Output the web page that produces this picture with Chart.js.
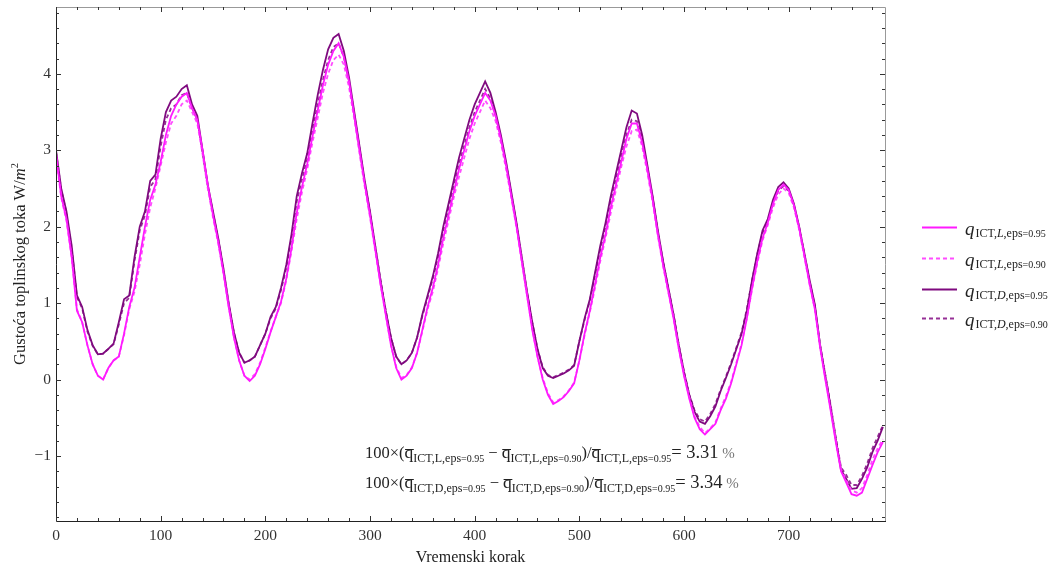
<!DOCTYPE html>
<html lang="hr">
<head>
<meta charset="UTF-8">
<title>Gustoća toplinskog toka</title>
<script src="https://cdn.jsdelivr.net/npm/chart.js"></script>
<style>
  html, body { margin: 0; padding: 0; background: #fff; }
  #wrap { width: 1057px; height: 569px; }
</style>
</head>
<body>
<div id="wrap"><canvas id="fluxChart" width="1057" height="569"></canvas></div>
<script>
// time steps (every 5th step)
var steps = [0,5,10,15,20,25,30,35,40,45,50,55,60,65,70,75,80,85,90,95,
  100,105,110,115,120,125,130,135,140,145,150,155,160,165,170,175,180,185,190,195,
  200,205,210,215,220,225,230,235,240,245,250,255,260,265,270,275,280,285,290,295,
  300,305,310,315,320,325,330,335,340,345,350,355,360,365,370,375,380,385,390,395,
  400,405,410,415,420,425,430,435,440,445,450,455,460,465,470,475,480,485,490,495,
  500,505,510,515,520,525,530,535,540,545,550,555,560,565,570,575,580,585,590,595,
  600,605,610,615,620,625,630,635,640,645,650,655,660,665,670,675,680,685,690,695,
  700,705,710,715,720,725,730,735,740,745,750,755,760,765,770,775,780,785,790];

var qL95 = [2.95,2.4,2.1,1.6,0.9,0.75,0.45,0.2,0.05,0.0,0.15,0.25,0.3,0.6,0.95,1.2,1.6,2.0,2.35,2.55,
  2.85,3.2,3.45,3.6,3.7,3.75,3.55,3.4,3.0,2.55,2.15,1.8,1.4,0.95,0.55,0.25,0.05,-0.02,0.05,0.2,
  0.4,0.62,0.82,1.02,1.32,1.72,2.18,2.52,2.82,3.18,3.52,3.85,4.12,4.3,4.4,4.22,3.9,3.45,3.0,2.55,
  2.15,1.7,1.25,0.85,0.45,0.15,0.0,0.05,0.15,0.35,0.65,0.95,1.2,1.5,1.85,2.15,2.45,2.75,3.0,3.25,
  3.45,3.6,3.75,3.65,3.45,3.15,2.8,2.4,2.0,1.55,1.1,0.65,0.3,0.0,-0.2,-0.32,-0.28,-0.23,-0.15,-0.05,
  0.25,0.6,0.9,1.25,1.6,1.9,2.25,2.55,2.85,3.15,3.35,3.35,3.1,2.75,2.35,1.9,1.5,1.15,0.8,0.4,
  0.05,-0.25,-0.5,-0.65,-0.72,-0.65,-0.58,-0.4,-0.25,-0.05,0.2,0.45,0.8,1.2,1.55,1.85,2.05,2.3,2.48,2.55,
  2.48,2.28,1.98,1.62,1.25,0.92,0.42,0.0,-0.4,-0.82,-1.2,-1.35,-1.5,-1.52,-1.48,-1.3,-1.12,-0.95,-0.82];

var qL90 = [2.92,2.38,2.08,1.6,0.92,0.75,0.45,0.2,0.05,0.0,0.15,0.25,0.3,0.58,0.92,1.15,1.5,1.9,2.25,2.5,
  2.8,3.1,3.35,3.45,3.6,3.65,3.5,3.35,2.95,2.5,2.12,1.78,1.38,0.95,0.55,0.25,0.05,0.0,0.07,0.22,
  0.42,0.63,0.82,1.0,1.3,1.68,2.1,2.45,2.75,3.1,3.42,3.75,4.0,4.18,4.25,4.12,3.82,3.4,2.95,2.52,
  2.12,1.68,1.25,0.85,0.45,0.17,0.02,0.06,0.16,0.35,0.63,0.92,1.15,1.45,1.78,2.08,2.38,2.65,2.9,3.15,
  3.35,3.5,3.65,3.55,3.38,3.1,2.75,2.38,1.98,1.54,1.1,0.66,0.3,0.02,-0.18,-0.3,-0.27,-0.22,-0.14,-0.04,
  0.25,0.58,0.88,1.2,1.55,1.85,2.18,2.48,2.78,3.05,3.25,3.27,3.05,2.7,2.32,1.88,1.48,1.14,0.8,0.4,
  0.06,-0.23,-0.48,-0.62,-0.7,-0.64,-0.56,-0.38,-0.22,-0.03,0.22,0.47,0.8,1.18,1.52,1.82,2.02,2.25,2.42,2.5,
  2.44,2.25,1.96,1.6,1.24,0.92,0.43,0.02,-0.38,-0.8,-1.18,-1.32,-1.45,-1.48,-1.42,-1.25,-1.05,-0.9,-0.78];

var qD95 = [3.0,2.5,2.2,1.75,1.1,0.95,0.65,0.45,0.33,0.34,0.4,0.47,0.75,1.05,1.1,1.6,2.0,2.2,2.6,2.68,
  3.15,3.5,3.65,3.7,3.8,3.85,3.6,3.45,3.0,2.55,2.2,1.85,1.45,1.0,0.62,0.35,0.22,0.25,0.3,0.45,
  0.6,0.82,0.95,1.2,1.5,1.9,2.4,2.7,2.96,3.35,3.72,4.05,4.32,4.47,4.52,4.3,3.95,3.5,3.05,2.6,
  2.2,1.75,1.3,0.9,0.55,0.3,0.2,0.25,0.35,0.55,0.85,1.1,1.35,1.65,2.0,2.3,2.6,2.9,3.15,3.4,
  3.6,3.75,3.9,3.75,3.5,3.2,2.85,2.45,2.05,1.6,1.15,0.75,0.4,0.15,0.05,0.02,0.05,0.08,0.12,0.18,
  0.5,0.8,1.05,1.4,1.75,2.05,2.4,2.7,3.0,3.3,3.52,3.48,3.2,2.8,2.4,1.95,1.55,1.2,0.85,0.45,
  0.1,-0.2,-0.42,-0.55,-0.58,-0.48,-0.35,-0.15,0.02,0.2,0.4,0.6,0.9,1.3,1.65,1.95,2.1,2.35,2.52,2.58,
  2.5,2.3,2.0,1.65,1.3,0.98,0.45,0.05,-0.35,-0.78,-1.18,-1.3,-1.43,-1.42,-1.3,-1.15,-0.95,-0.8,-0.62];

var qD90 = [2.98,2.48,2.18,1.72,1.08,0.93,0.63,0.44,0.33,0.34,0.4,0.46,0.72,1.0,1.07,1.55,1.95,2.15,2.52,2.62,
  3.05,3.4,3.55,3.6,3.72,3.75,3.55,3.4,2.98,2.53,2.18,1.83,1.43,0.98,0.61,0.35,0.22,0.25,0.3,0.45,
  0.6,0.8,0.93,1.17,1.46,1.85,2.33,2.62,2.88,3.25,3.6,3.92,4.18,4.35,4.4,4.22,3.9,3.46,3.02,2.58,
  2.18,1.74,1.3,0.9,0.55,0.3,0.2,0.25,0.35,0.55,0.83,1.07,1.32,1.6,1.95,2.24,2.53,2.82,3.06,3.3,
  3.5,3.65,3.8,3.68,3.45,3.16,2.82,2.43,2.03,1.59,1.14,0.75,0.4,0.16,0.06,0.03,0.06,0.09,0.13,0.19,
  0.5,0.78,1.03,1.37,1.7,2.0,2.34,2.63,2.92,3.2,3.4,3.38,3.15,2.77,2.38,1.93,1.54,1.19,0.85,0.45,
  0.1,-0.2,-0.4,-0.52,-0.55,-0.45,-0.32,-0.13,0.04,0.22,0.42,0.62,0.92,1.3,1.64,1.92,2.06,2.3,2.47,2.53,
  2.47,2.28,1.99,1.64,1.28,0.96,0.45,0.06,-0.33,-0.76,-1.15,-1.25,-1.38,-1.38,-1.26,-1.1,-0.9,-0.75,-0.6];

var xTicks = [0, 100, 200, 300, 400, 500, 600, 700];
var yTicks = [-1, 0, 1, 2, 3, 4];
var legendSub = [['L', '0.95'], ['L', '0.90'], ['D', '0.95'], ['D', '0.90']];
var ratioL = '3.31';
var ratioD = '3.34';

var SERIF = '"Liberation Serif", "Times New Roman", serif';
var colL = '#ff1aff', colL2 = '#ff4dff', colD = '#7f0a7f', colD2 = '#963096';

function pairs(vals) {
    return steps.map(function (s, i) { return { x: s, y: vals[i] }; });
}

// draw a run of text pieces (for sub/superscripts and italics)
function runs(ctx, x, y, parts) {
    parts.forEach(function (p) {
        ctx.font = (p.it ? 'italic ' : '') + p.sz + 'px ' + SERIF;
        ctx.fillStyle = p.c || '#222';
        ctx.fillText(p.t, x, y + (p.dy || 0));
        var w = ctx.measureText(p.t).width;
        if (p.bar) {
            ctx.strokeStyle = p.c || '#222';
            ctx.lineWidth = 1;
            ctx.beginPath();
            ctx.moveTo(x + 0.5, Math.round(y - p.sz * 0.5) + 0.5);
            ctx.lineTo(x + w + 0.5, Math.round(y - p.sz * 0.5) + 0.5);
            ctx.stroke();
        }
        x += w + (p.gap || 0);
    });
    return x;
}

function width(ctx, parts) {
    var w = 0;
    parts.forEach(function (p) {
        ctx.font = (p.it ? 'italic ' : '') + p.sz + 'px ' + SERIF;
        w += ctx.measureText(p.t).width + (p.gap || 0);
    });
    return w;
}

function qbar(sub, eps) {
    return [
        { t: 'q', sz: 17.5, bar: true },
        { t: 'ICT,' + sub + ',eps', sz: 12, dy: 4 },
        { t: '=' + eps, sz: 10, dy: 4 }
    ];
}

var framePlugin = {
    id: 'frame',
    afterDraw: function (chart) {
        var ctx = chart.ctx, a = chart.chartArea;
        var xs = chart.scales.x, ys = chart.scales.y;
        ctx.save();

        // frame
        ctx.lineWidth = 1;
        ctx.strokeStyle = '#999';
        ctx.beginPath();
        ctx.moveTo(a.left, a.top + 0.5); ctx.lineTo(a.right + 0.5, a.top + 0.5);
        ctx.lineTo(a.right + 0.5, a.bottom);
        ctx.stroke();
        ctx.strokeStyle = '#222';
        ctx.beginPath();
        ctx.moveTo(a.left + 0.5, a.top); ctx.lineTo(a.left + 0.5, a.bottom + 0.5);
        ctx.lineTo(a.right + 1, a.bottom + 0.5);
        ctx.stroke();

        // ticks, pointing inward
        ctx.strokeStyle = '#333';
        ctx.beginPath();
        for (var v = 0; v <= 790; v += 20) {
            var px = Math.round(xs.getPixelForValue(v)) + 0.5;
            var len = v % 100 === 0 ? 5 : 3;
            ctx.moveTo(px, a.bottom); ctx.lineTo(px, a.bottom - len);
            ctx.moveTo(px, a.top); ctx.lineTo(px, a.top + len);
        }
        for (var k = -9; k <= 24; k++) {
            var py = Math.round(ys.getPixelForValue(k / 5)) + 0.5;
            var ln = k % 5 === 0 ? 5 : 3;
            ctx.moveTo(a.left, py); ctx.lineTo(a.left + ln, py);
            ctx.moveTo(a.right, py); ctx.lineTo(a.right - ln, py);
        }
        ctx.stroke();

        // axis titles
        ctx.textAlign = 'left';
        ctx.textBaseline = 'alphabetic';
        ctx.font = '16px ' + SERIF;
        ctx.fillStyle = '#222';
        var xt = 'Vremenski korak';
        ctx.fillText(xt, (a.left + a.right) / 2 - ctx.measureText(xt).width / 2, 562);

        var yt = [
            { t: 'Gustoća toplinskog toka W/', sz: 16.5 },
            { t: 'm', sz: 16.5, it: true },
            { t: '2', sz: 10.5, dy: -7 }
        ];
        ctx.save();
        ctx.translate(25, (a.top + a.bottom) / 2);
        ctx.rotate(-Math.PI / 2);
        runs(ctx, -width(ctx, yt) / 2, 0, yt);
        ctx.restore();

        // legend
        var rows = [227, 258, 289, 318];
        var cols = [colL, colL2, colD, colD2];
        rows.forEach(function (ry, i) {
            ctx.strokeStyle = cols[i];
            ctx.lineWidth = 2;
            ctx.setLineDash(i % 2 ? [4, 3] : []);
            ctx.beginPath();
            ctx.moveTo(922, ry + 0.5); ctx.lineTo(957, ry + 0.5);
            ctx.stroke();
            ctx.setLineDash([]);
            runs(ctx, 965, ry + 8, [
                { t: 'q', sz: 19, it: true, gap: 1 },
                { t: 'ICT,', sz: 12, dy: 2 },
                { t: legendSub[i][0], sz: 12, it: true, dy: 2 },
                { t: ',eps', sz: 12, dy: 2 },
                { t: '=' + legendSub[i][1], sz: 10, dy: 2 }
            ]);
        });

        // relative difference annotation
        [[ 'L', ratioL, 458 ], [ 'D', ratioD, 488 ]].forEach(function (r) {
            var parts = [{ t: '100×(', sz: 16.5 }]
                .concat(qbar(r[0], '0.95'))
                .concat([{ t: ' − ', sz: 16.5 }])
                .concat(qbar(r[0], '0.90'))
                .concat([{ t: ')/', sz: 16.5 }])
                .concat(qbar(r[0], '0.95'))
                .concat([{ t: '= ' + r[1], sz: 18.5 }, { t: ' %', sz: 15, c: '#777' }]);
            runs(ctx, 365, r[2], parts);
        });

        ctx.restore();
    }
};

function fixTicks(list) {
    return function (scale) { scale.ticks = list.map(function (v) { return { value: v }; }); };
}

var ctxLine = document.getElementById('fluxChart').getContext('2d');
var fluxChart = new Chart(ctxLine, {
    type: 'line',
    data: {
        datasets: [{
            label: 'qICT,L,eps=0.95',
            data: pairs(qL95),
            borderColor: colL,
            borderWidth: 1.8
        }, {
            label: 'qICT,L,eps=0.90',
            data: pairs(qL90),
            borderColor: colL2,
            borderWidth: 1.8,
            borderDash: [4, 3]
        }, {
            label: 'qICT,D,eps=0.95',
            data: pairs(qD95),
            borderColor: colD,
            borderWidth: 1.8
        }, {
            label: 'qICT,D,eps=0.90',
            data: pairs(qD90),
            borderColor: colD2,
            borderWidth: 1.8,
            borderDash: [4, 3]
        }]
    },
    options: {
        responsive: false,
        animation: false,
        events: [],
        elements: { point: { radius: 0 }, line: { tension: 0, fill: false } },
        layout: { padding: { left: 0, right: 172, top: 7, bottom: 0 } },
        plugins: { legend: { display: false }, tooltip: { enabled: false } },
        scales: {
            x: {
                type: 'linear',
                min: 0,
                max: 792,
                afterBuildTicks: fixTicks(xTicks),
                afterFit: function (s) { s.height = 48; s.paddingLeft = 0; s.paddingRight = 0; },
                grid: { display: false, drawTicks: false },
                border: { display: false },
                ticks: {
                    padding: 6,
                    maxRotation: 0,
                    autoSkip: false,
                    color: '#333',
                    font: { family: SERIF, size: 15.5 }
                }
            },
            y: {
                min: -1.851,
                max: 4.874,
                afterBuildTicks: fixTicks(yTicks),
                afterFit: function (s) { s.width = 56; s.paddingTop = 0; s.paddingBottom = 0; },
                grid: { display: false, drawTicks: false },
                border: { display: false },
                ticks: {
                    padding: 5,
                    color: '#333',
                    font: { family: SERIF, size: 15.5 },
                    callback: function (v) { return v < 0 ? '\u2212' + Math.abs(v) : String(v); }
                }
            }
        }
    },
    plugins: [framePlugin]
});
</script>
</body>
</html>
